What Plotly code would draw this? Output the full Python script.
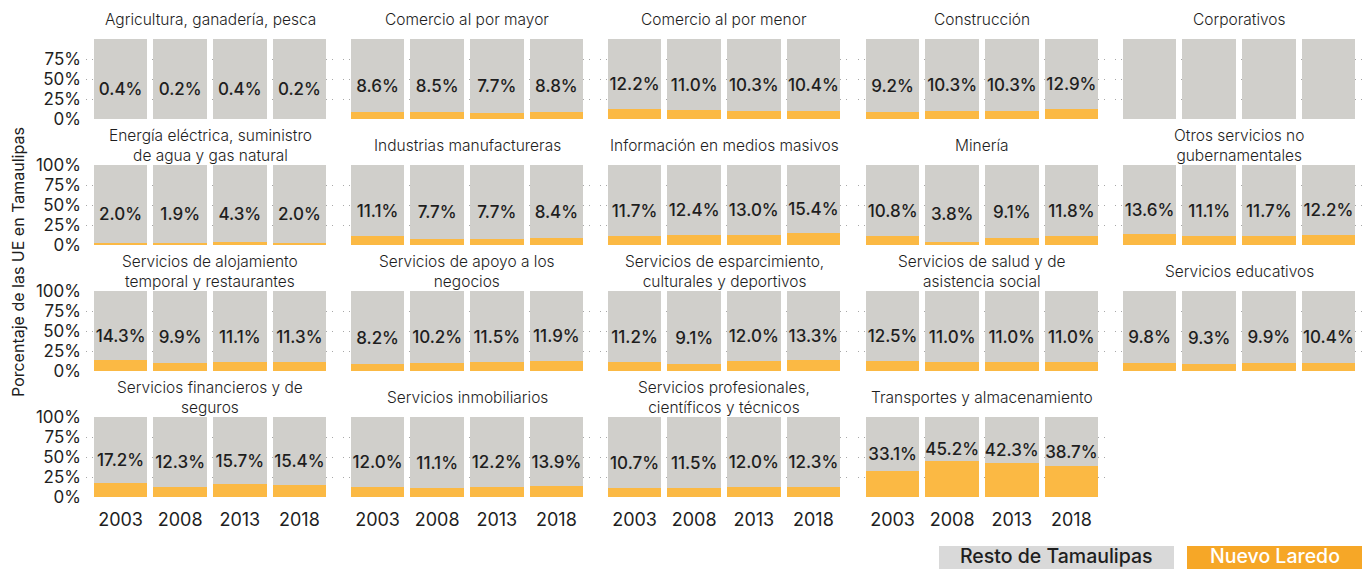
import plotly.graph_objects as go

# Years shown on each panel's x axis
years = ["2003", "2008", "2013", "2018"]

# Sector names (panel titles), in grid order
sectors = [
    "Agricultura, ganadería, pesca",
    "Comercio al por mayor",
    "Comercio al por menor",
    "Construcción",
    "Corporativos",
    "Energía eléctrica, suministro<br>de agua y gas natural",
    "Industrias manufactureras",
    "Información en medios masivos",
    "Minería",
    "Otros servicios no<br>gubernamentales",
    "Servicios de alojamiento<br>temporal y restaurantes",
    "Servicios de apoyo a los<br>negocios",
    "Servicios de esparcimiento,<br>culturales y deportivos",
    "Servicios de salud y de<br>asistencia social",
    "Servicios educativos",
    "Servicios financieros y de<br>seguros",
    "Servicios inmobiliarios",
    "Servicios profesionales,<br>científicos y técnicos",
    "Transportes y almacenamiento",
]

# Share (%) of Tamaulipas economic units located in Nuevo Laredo
agricultura = [0.4, 0.2, 0.4, 0.2]
comercio_mayor = [8.6, 8.5, 7.7, 8.8]
comercio_menor = [12.2, 11.0, 10.3, 10.4]
construccion = [9.2, 10.3, 10.3, 12.9]
corporativos = [None, None, None, None]
energia = [2.0, 1.9, 4.3, 2.0]
manufactura = [11.1, 7.7, 7.7, 8.4]
informacion = [11.7, 12.4, 13.0, 15.4]
mineria = [10.8, 3.8, 9.1, 11.8]
otros_servicios = [13.6, 11.1, 11.7, 12.2]
alojamiento = [14.3, 9.9, 11.1, 11.3]
apoyo_negocios = [8.2, 10.2, 11.5, 11.9]
esparcimiento = [11.2, 9.1, 12.0, 13.3]
salud = [12.5, 11.0, 11.0, 11.0]
educativos = [9.8, 9.3, 9.9, 10.4]
financieros = [17.2, 12.3, 15.7, 15.4]
inmobiliarios = [12.0, 11.1, 12.2, 13.9]
profesionales = [10.7, 11.5, 12.0, 12.3]
transportes = [33.1, 45.2, 42.3, 38.7]

nuevo_laredo = [
    agricultura, comercio_mayor, comercio_menor, construccion, corporativos,
    energia, manufactura, informacion, mineria, otros_servicios,
    alojamiento, apoyo_negocios, esparcimiento, salud, educativos,
    financieros, inmobiliarios, profesionales, transportes,
]

y_ticks_first_row = [0, 25, 50, 75]
y_ticks = [0, 25, 50, 75, 100]

GRAY = "#d0cfcb"
ORANGE = "#fbb944"
TEXT = "#1e1e1e"
FONT = "Inter"

W, H = 1372, 569
ML, MR, MT, MB = 86, 9, 39, 72
PW = W - ML - MR
PH = H - MT - MB
col_left = [86, 343, 600, 858, 1115]
panel_w = 248
row_top = [39, 165, 291, 417]
panel_h = 80


def xdom(c):
    return [(col_left[c] - ML) / PW, (col_left[c] + panel_w - ML) / PW]


def ydom(r):
    bottom = row_top[r] + panel_h
    return [(MT + PH - bottom) / PH, (MT + PH - row_top[r]) / PH]


fig = go.Figure()
xpos = list(range(len(years)))
grid_style = dict(showgrid=True, gridcolor="#a8a8a8", griddash="1px,5px",
                  gridwidth=1, zeroline=False, showline=False)

annotations = []
for i in range(20):
    r, c = divmod(i, 5)
    n = i + 1
    xa = "x" if n == 1 else f"x{n}"
    ya = "y" if n == 1 else f"y{n}"
    xkey = "xaxis" if n == 1 else f"xaxis{n}"
    ykey = "yaxis" if n == 1 else f"yaxis{n}"
    yt = y_ticks_first_row if r == 0 else y_ticks

    fig.layout[xkey] = dict(
        domain=xdom(c), anchor=ya, range=[-0.58, 3.58],
        tickmode="array", tickvals=xpos, ticktext=years,
        showticklabels=(r == 3), ticks="", ticklabelstandoff=10,
        tickfont=dict(family=FONT, size=18, color=TEXT), **grid_style,
    )
    fig.layout[ykey] = dict(
        domain=ydom(r), anchor=xa, range=[0, 100],
        tickmode="array", tickvals=yt, ticktext=[f"{t}%" for t in yt],
        showticklabels=(c == 0), ticks="",
        ticklabelstandoff=4,
        tickfont=dict(family=FONT, size=17, color=TEXT), **grid_style,
    )

    if i >= len(sectors):
        continue

    vals = nuevo_laredo[i]
    nl = [v if v is not None else 0 for v in vals]
    resto = [100 - v for v in nl]

    fig.add_trace(go.Bar(x=xpos, y=nl, marker_color=ORANGE, marker_line_width=0,
                         name="Nuevo Laredo", showlegend=False,
                         xaxis=xa, yaxis=ya))
    fig.add_trace(go.Bar(x=xpos, y=resto, marker_color=GRAY, marker_line_width=0,
                         name="Resto de Tamaulipas", showlegend=False,
                         xaxis=xa, yaxis=ya))

    shown = [(x, v) for x, v in zip(xpos, vals) if v is not None]
    if shown:
        fig.add_trace(go.Scatter(
            x=[s[0] for s in shown],
            y=[s[1] / 2 + 35 for s in shown],
            text=[f"{s[1]:.1f}%" for s in shown],
            mode="text", textposition="middle center",
            textfont=dict(family=FONT, size=17, color=TEXT, weight=500),
            showlegend=False, hoverinfo="skip", xaxis=xa, yaxis=ya,
        ))

    dx = xdom(c)
    dy = ydom(r)
    annotations.append(dict(
        text=sectors[i], x=(dx[0] + dx[1]) / 2, y=dy[1], xref="paper", yref="paper",
        xanchor="center", yanchor="middle", yshift=20, showarrow=False,
        font=dict(family=FONT, size=15.5, color=TEXT, weight=300),
    ))

# Y axis title
annotations.append(dict(
    text="Porcentaje de las UE en Tamaulipas", textangle=-90,
    x=(18 - ML) / PW, y=(MT + PH - 262) / PH, xref="paper", yref="paper",
    xanchor="center", yanchor="middle", showarrow=False,
    font=dict(family=FONT, size=16, color=TEXT),
))


def px_x(p):
    return (p - ML) / PW


def px_y(p):
    return (MT + PH - p) / PH


# Legend keys drawn as coloured boxes with text
legend_items = [
    ("Resto de Tamaulipas", 939, 1174, "#d9d9d9", TEXT),
    ("Nuevo Laredo", 1187, 1362, "#f6a727", "#ffffff"),
]
shapes = []
for label, x0, x1, bg, fg in legend_items:
    shapes.append(dict(type="rect", xref="paper", yref="paper",
                       x0=px_x(x0), x1=px_x(x1), y0=px_y(575), y1=px_y(546),
                       fillcolor=bg, line_width=0, layer="above"))
    annotations.append(dict(
        text=label, x=px_x((x0 + x1) / 2), y=px_y(556), xref="paper", yref="paper",
        xanchor="center", yanchor="middle", showarrow=False,
        font=dict(family=FONT, size=19.5, color=fg, weight=500),
    ))

fig.update_layout(
    width=W, height=H,
    margin=dict(l=ML, r=MR, t=MT, b=MB),
    barmode="stack", bargap=0.1,
    plot_bgcolor="white", paper_bgcolor="white",
    showlegend=False,
    annotations=annotations, shapes=shapes,
    font=dict(family=FONT, color=TEXT),
)

fig.write_html("out.html")
